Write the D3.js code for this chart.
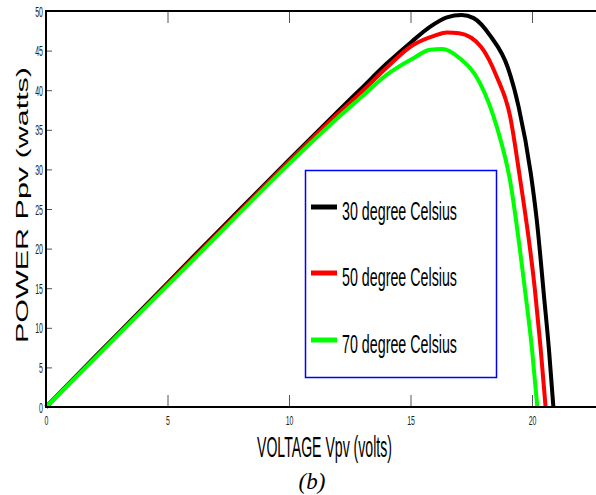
<!DOCTYPE html>
<html>
<head>
<meta charset="utf-8">
<script src="https://cdn.jsdelivr.net/npm/d3@7"></script>
<style>
  html, body { margin: 0; padding: 0; background: #fff; }
  svg { display: block; }
  text { font-family: "Liberation Sans", Arial, sans-serif; }
  text.caption { font-family: "Liberation Serif", "Times New Roman", serif; font-style: italic; }
</style>
</head>
<body>
<svg id="chart" width="596" height="495"></svg>
<script>
// P-V curves of a PV module at three cell temperatures
const seriesNames = ["30 degree Celsius", "50 degree Celsius", "70 degree Celsius"];
const seriesColors = ["#000000", "#ff0000", "#00ff00"];

const v30 = [0, 2, 4, 6, 8, 10, 12, 13, 14, 15, 15.8, 16.5, 17.1, 17.6, 18.3, 19.0, 19.45, 19.95, 20.2, 20.5, 20.7, 20.88];
const p30 = [0, 6.3, 12.5, 18.8, 25.0, 31.2, 37.3, 40.3, 43.3, 46.0, 48.0, 49.2, 49.5, 49.1, 46.8, 42.9, 37.9, 29.5, 23.5, 13.8, 7.2, 0];

const v50 = [0, 2, 4, 6, 8, 10, 12, 13, 14, 15.1, 16.0, 16.5, 17.0, 17.9, 18.55, 19.1, 19.5, 20.12, 20.35, 20.56];
const p50 = [0, 6.2, 12.4, 18.6, 24.8, 31.0, 37.0, 39.8, 42.8, 45.7, 46.9, 47.3, 47.2, 45.5, 41.7, 36.7, 29.0, 14.8, 7.6, 0];

const v70 = [0, 2, 4, 6, 8, 10, 12, 13, 14, 15.1, 15.8, 16.3, 17.0, 17.86, 18.55, 19.09, 19.71, 20.0, 20.22];
const p70 = [0, 6.1, 12.3, 18.4, 24.6, 30.7, 36.5, 39.2, 41.9, 44.0, 45.1, 45.2, 44.1, 40.9, 35.4, 28.7, 14.8, 7.3, 0];

const xTicks = [0, 5, 10, 15, 20];
const yTicks = [0, 5, 10, 15, 20, 25, 30, 35, 40, 45, 50];

const xLabel = "VOLTAGE Vpv (volts)";
const yLabel = "POWER Ppv (watts)";
const caption = "(b)";

const series = [
  { name: seriesNames[0], color: seriesColors[0], v: v30, p: p30 },
  { name: seriesNames[1], color: seriesColors[1], v: v50, p: p50 },
  { name: seriesNames[2], color: seriesColors[2], v: v70, p: p70 }
];

const svg = d3.select("#chart");
const plotLeft = 46, plotTop = 11, plotBottom = 407;
const x = d3.scaleLinear().domain([0, 23]).range([plotLeft, plotLeft + 23 * 24.3]);
const y = d3.scaleLinear().domain([0, 50]).range([plotBottom, plotTop]);
const plotRight = x.range()[1];

// curves
const line = d3.line()
  .x(d => x(d[0]))
  .y(d => y(d[1]))
  .curve(d3.curveMonotoneX);

svg.append("g").selectAll("path")
  .data(series)
  .join("path")
  .attr("fill", "none")
  .attr("stroke", d => d.color)
  .attr("stroke-width", 4)
  .attr("stroke-linejoin", "round")
  .attr("d", d => line(d.v.map((v, i) => [v, d.p[i]])));

// axes with inward ticks, mirrored on top
const axB = d3.axisBottom(x).tickValues(xTicks).tickSize(-12).tickPadding(0).tickFormat(d3.format("d"));
const axT = d3.axisTop(x).tickValues(xTicks).tickSize(-12).tickFormat("");
const axL = d3.axisLeft(y).tickValues(yTicks).tickSize(-6).tickFormat(d3.format("d"));

const gB = svg.append("g").attr("transform", `translate(0,${plotBottom})`).call(axB);
const gT = svg.append("g").attr("transform", `translate(0,${plotTop})`).call(axT);
const gL = svg.append("g").attr("transform", `translate(${plotLeft},0)`).call(axL);

[gB, gT, gL].forEach(g => {
  g.select(".domain").remove();
  g.selectAll(".tick line").attr("stroke", "#555").attr("stroke-width", 1);
});

gB.selectAll(".tick text")
  .attr("y", 0).attr("dy", null)
  .attr("font-size", 12)
  .attr("fill", "#222")
  .attr("text-anchor", "middle")
  .attr("transform", "translate(0,18) scale(0.58,1)");

gL.selectAll(".tick text")
  .attr("x", 0).attr("dy", null)
  .attr("font-size", 14)
  .attr("fill", "#222")
  .attr("text-anchor", "end")
  .attr("transform", "translate(-3,5) scale(0.5,1)");

// frame
svg.append("path")
  .attr("fill", "none")
  .attr("stroke", "#000")
  .attr("stroke-width", 2)
  .attr("d", `M${plotRight},${plotTop}H${plotLeft}V${plotBottom}H${plotRight}`);

// axis titles
svg.append("text")
  .attr("x", 257).attr("y", 457)
  .attr("font-size", 29)
  .attr("textLength", 135)
  .attr("lengthAdjust", "spacingAndGlyphs")
  .text(xLabel);

svg.append("text")
  .attr("transform", "translate(28,343) rotate(-90)")
  .attr("font-size", 17)
  .attr("textLength", 276)
  .attr("lengthAdjust", "spacingAndGlyphs")
  .text(yLabel);

svg.append("text")
  .attr("class", "caption")
  .attr("x", 312).attr("y", 489)
  .attr("text-anchor", "middle")
  .attr("font-size", 23)
  .text(caption);

// legend
const lg = svg.append("g");
lg.append("rect")
  .attr("x", 305.5).attr("y", 170.5)
  .attr("width", 191).attr("height", 207)
  .attr("fill", "#fff")
  .attr("stroke", "#0000ff")
  .attr("stroke-width", 1.5);

const rowY = [207, 273, 340];
series.forEach((s, i) => {
  lg.append("line")
    .attr("x1", 311).attr("x2", 337)
    .attr("y1", rowY[i]).attr("y2", rowY[i])
    .attr("stroke", s.color)
    .attr("stroke-width", 5);
  lg.append("text")
    .attr("x", 342).attr("y", rowY[i] + 13)
    .attr("font-size", 25)
    .attr("textLength", 115)
    .attr("lengthAdjust", "spacingAndGlyphs")
    .text(s.name);
});
</script>
</body>
</html>
